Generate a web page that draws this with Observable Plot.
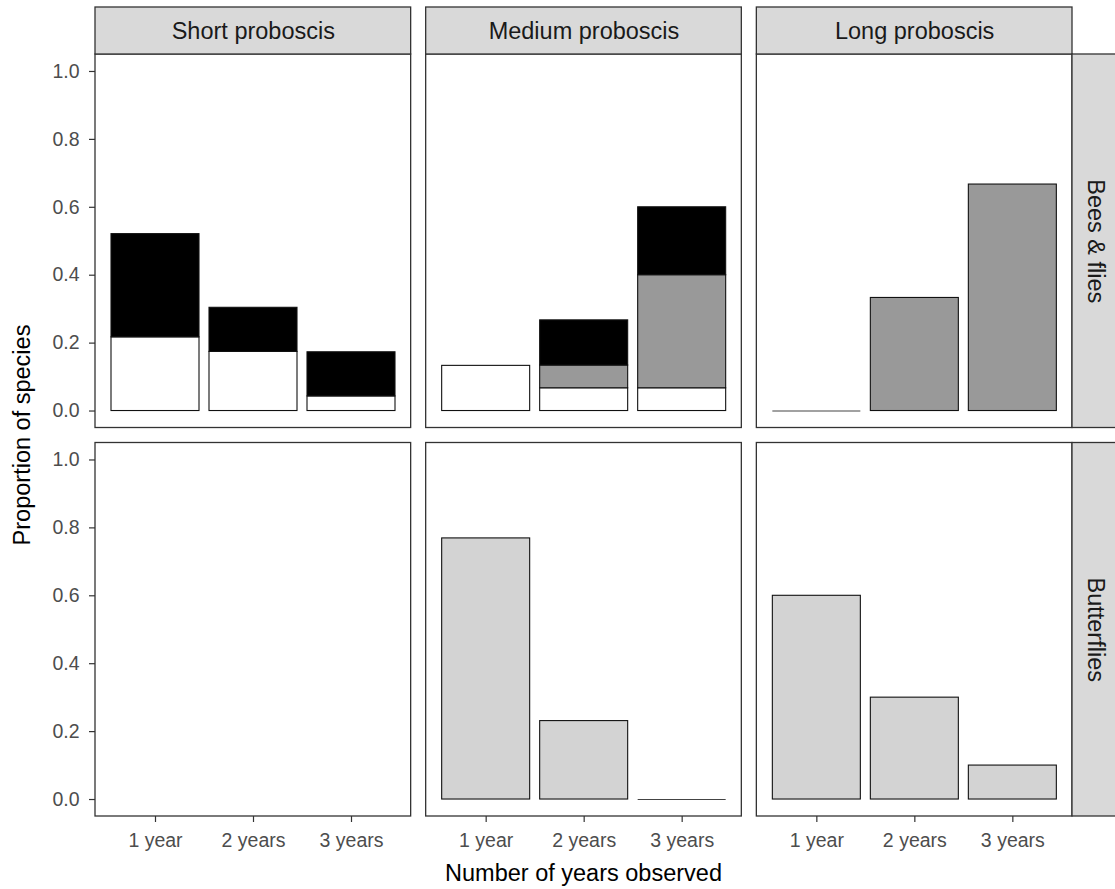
<!DOCTYPE html>
<html>
<head>
<meta charset="utf-8">
<script src="https://cdn.jsdelivr.net/npm/d3@7"></script>
<script src="https://cdn.jsdelivr.net/npm/@observablehq/plot@0.6"></script>
<style>
  html, body { margin: 0; padding: 0; background: #fff; overflow: hidden; }
  #chart svg { display: block; }
</style>
</head>
<body>
<div id="chart"></div>
<script>
// Facet categories and x categories
const proboscis = ["Short proboscis", "Medium proboscis", "Long proboscis"];
const taxa = ["Bees & flies", "Butterflies"];
const years = ["1 year", "2 years", "3 years"];

// Fill groups (stacked bottom to top in this order) and their colours
const groups = ["white", "dark grey", "black", "light grey"];
const groupFills = ["#ffffff", "#999999", "#000000", "#d3d3d3"];

// Proportion of species per year observed, one array per panel and fill group
const beesShortWhite = [0.217, 0.174, 0.043];
const beesShortBlack = [0.304, 0.130, 0.130];
const beesMediumWhite = [0.133, 0.067, 0.067];
const beesMediumGrey = [0, 0.067, 0.333];
const beesMediumBlack = [0, 0.133, 0.200];
const beesLongGrey = [0, 0.333, 0.667];
const butterfliesMedium = [0.769, 0.231, 0];
const butterfliesLong = [0.6, 0.3, 0.1];

// Long-format table of stacked segments
const segments = [];
function add(taxon, length, group, values) {
  values.forEach((v, i) => segments.push({taxon, length, group, years: years[i], value: v}));
}
add("Bees & flies", "Short proboscis", "white", beesShortWhite);
add("Bees & flies", "Short proboscis", "black", beesShortBlack);
add("Bees & flies", "Medium proboscis", "white", beesMediumWhite);
add("Bees & flies", "Medium proboscis", "dark grey", beesMediumGrey);
add("Bees & flies", "Medium proboscis", "black", beesMediumBlack);
add("Bees & flies", "Long proboscis", "dark grey", beesLongGrey);
add("Butterflies", "Medium proboscis", "light grey", butterfliesMedium);
add("Butterflies", "Long proboscis", "light grey", butterfliesLong);

// Bars whose total is zero are drawn as a flat outline at 0
const totals = d3.rollups(segments, v => d3.sum(v, d => d.value), d => d.taxon, d => d.length, d => d.years);
const emptyBars = [];
for (const [taxon, byLength] of totals)
  for (const [length, byYear] of byLength)
    for (const [yr, total] of byYear)
      if (total === 0) emptyBars.push({taxon, length, years: yr});

// One entry per panel, plus the strip rows/columns
const panels = taxa.flatMap(taxon => proboscis.map(length => ({taxon, length})));
const topStrips = proboscis.map(length => ({taxon: taxa[0], length}));
const rightStrips = taxa.map(taxon => ({taxon, length: proboscis[proboscis.length - 1]}));

// Layout
const W = 1115, H = 889;
const mL = 95, mR = 43, mT = 54, mB = 73;
const stripH = 47;
const fxPad = 0.0454, fyPad = 0.0386;
const fxBand = (W - mL - mR) / (proboscis.length - fxPad) * (1 - fxPad);
const fyBand = (H - mT - mB) / (taxa.length - fyPad) * (1 - fyPad);
const border = "#333333";

const chart = Plot.plot({
  width: W,
  height: H,
  marginLeft: mL,
  marginRight: mR,
  marginTop: mT,
  marginBottom: mB,
  style: {fontFamily: "'Liberation Sans', Arial, sans-serif", fontSize: "19.5px", background: "#fff", overflow: "visible"},
  fx: {domain: proboscis, paddingInner: fxPad, paddingOuter: 0, round: false, axis: null, label: null},
  fy: {domain: taxa, paddingInner: fyPad, paddingOuter: 0, round: false, axis: null, label: null},
  x: {domain: years, paddingInner: 0.1, paddingOuter: 0.15, align: 0.5, label: null},
  y: {domain: [-0.05, 1.05], label: null},
  color: {domain: groups, range: groupFills},
  marks: [
    Plot.barY(segments, Plot.stackY({
      fx: "length", fy: "taxon", x: "years", y: "value", fill: "group",
      stroke: "#111", strokeWidth: 1.1
    })),
    Plot.tickY(emptyBars, {fx: "length", fy: "taxon", x: "years", y: () => 0, stroke: "#444", strokeWidth: 1.1}),
    // panel borders
    Plot.rect(panels, {fx: "length", fy: "taxon", fill: "none", stroke: border, strokeWidth: 1.3}),
    // column strips
    Plot.rect(topStrips, {
      fx: "length", fy: "taxon", fill: "#d9d9d9", stroke: border, strokeWidth: 1.3,
      insetTop: -stripH, insetBottom: fyBand
    }),
    Plot.text(topStrips, {
      fx: "length", fy: "taxon", text: "length", frameAnchor: "top", dy: -stripH / 2,
      lineAnchor: "middle", textAnchor: "middle", fontSize: 23.5, fill: "#1a1a1a"
    }),
    // row strips
    Plot.rect(rightStrips, {
      fx: "length", fy: "taxon", fill: "#d9d9d9", stroke: border, strokeWidth: 1.3,
      insetLeft: fxBand, insetRight: -(stripH + 2)
    }),
    Plot.text(rightStrips, {
      fx: "length", fy: "taxon", text: "taxon", frameAnchor: "right", dx: stripH / 2,
      rotate: 90, lineAnchor: "middle", textAnchor: "middle", fontSize: 23.5, fill: "#1a1a1a"
    }),
    Plot.axisY({
      ticks: [0, 0.2, 0.4, 0.6, 0.8, 1.0], tickFormat: d3.format(".1f"),
      tickSize: 6, tickPadding: 10, fill: "#4d4d4d", stroke: border, strokeWidth: 1.2, label: null
    }),
    Plot.axisX({
      tickSize: 6, tickPadding: 11, fill: "#4d4d4d", stroke: border, strokeWidth: 1.2, label: null
    })
  ]
});

// Axis titles
const svg = d3.select(chart);
svg.append("text")
  .attr("x", mL + (W - mL - mR) / 2)
  .attr("y", 881)
  .attr("text-anchor", "middle")
  .attr("font-size", 23.5)
  .attr("fill", "#000")
  .text("Number of years observed");
svg.append("text")
  .attr("transform", `translate(30,${mT + (H - mT - mB) / 2}) rotate(-90)`)
  .attr("text-anchor", "middle")
  .attr("font-size", 23.5)
  .attr("fill", "#000")
  .text("Proportion of species");

document.getElementById("chart").appendChild(chart);
</script>
</body>
</html>
